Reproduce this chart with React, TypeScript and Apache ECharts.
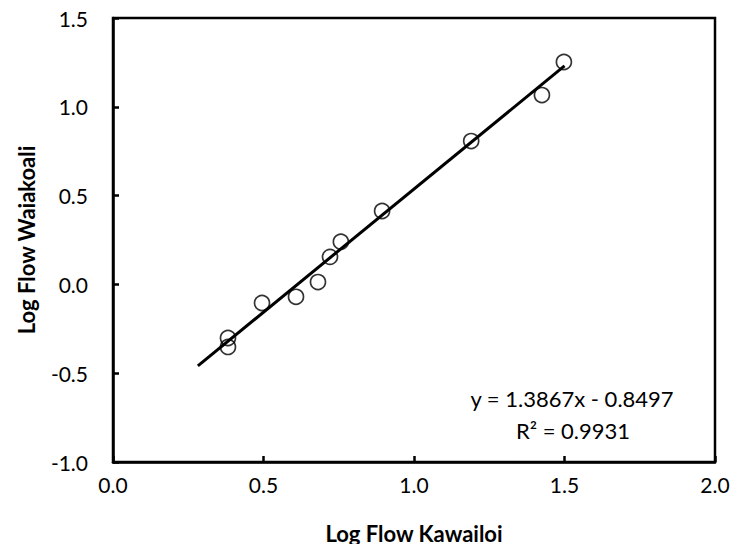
import React, { useEffect, useRef } from "react";
import * as echarts from "echarts";

const xValues = [0.382, 0.382, 0.495, 0.608, 0.681, 0.721, 0.757, 0.894, 1.19, 1.425, 1.498];
const yValues = [-0.302, -0.352, -0.105, -0.07, 0.013, 0.155, 0.24, 0.413, 0.807, 1.066, 1.252];
const slope = 1.3867;
const intercept = -0.8497;
const trendStart = 0.282;
const trendEnd = 1.5;
const eqText = "y = 1.3867x - 0.8497";
const r2Text = "R² = 0.9931";
const xTitle = "Log Flow Kawailoi";
const yTitle = "Log Flow Waiakoali";

const FONT = "Lato, 'Open Sans', sans-serif";

export default function App() {
  const ref = useRef<HTMLDivElement>(null);
  useEffect(() => {
    if (!ref.current) return;
    const chart = echarts.init(ref.current, undefined, { renderer: "svg" });
    const points = xValues.map((x, i) => [x, yValues[i]]);
    const trend = [trendStart, trendEnd].map((x) => [x, slope * x + intercept]);
    chart.setOption({
      animation: false,
      backgroundColor: "#fff",
      grid: {
        left: 113,
        right: 32,
        top: 18,
        bottom: 90,
        show: true,
        borderColor: "#000",
        borderWidth: 2.5,
        backgroundColor: "transparent",
      },
      xAxis: {
        type: "value",
        min: 0,
        max: 2,
        interval: 0.5,
        name: xTitle,
        nameLocation: "middle",
        nameGap: 60,
        nameTextStyle: { fontFamily: FONT, fontSize: 22, fontWeight: "bold", color: "#000" },
        axisLine: { show: true, onZero: false, lineStyle: { color: "#000", width: 2.5 } },
        axisTick: { show: true, inside: true, length: 6, lineStyle: { color: "#000", width: 2.5 } },
        axisLabel: {
          fontFamily: FONT,
          fontSize: 21,
          color: "#000",
          margin: 12,
          formatter: (v: number) => v.toFixed(1),
        },
        splitLine: { show: false },
      },
      yAxis: {
        type: "value",
        min: -1,
        max: 1.5,
        interval: 0.5,
        name: yTitle,
        nameLocation: "middle",
        nameGap: 76,
        nameRotate: 90,
        nameTextStyle: { fontFamily: FONT, fontSize: 22, fontWeight: "bold", color: "#000" },
        axisLine: { show: true, onZero: false, lineStyle: { color: "#000", width: 2.5 } },
        axisTick: { show: true, inside: true, length: 6, lineStyle: { color: "#000", width: 2.5 } },
        axisLabel: {
          fontFamily: FONT,
          fontSize: 21,
          color: "#000",
          margin: 25,
          formatter: (v: number) => v.toFixed(1),
        },
        splitLine: { show: false },
      },
      series: [
        {
          type: "line",
          data: trend,
          symbol: "none",
          lineStyle: { color: "#000", width: 3 },
          z: 2,
        },
        {
          type: "scatter",
          data: points,
          symbol: "circle",
          symbolSize: 15,
          itemStyle: { color: "rgba(0,0,0,0)", borderColor: "#000", borderWidth: 1.7 },
          z: 3,
        },
      ],
      graphic: [
        {
          type: "text",
          x: 572,
          y: 398,
          style: {
            text: eqText,
            fontFamily: FONT,
            fontSize: 22,
            fill: "#000",
            align: "center",
            verticalAlign: "middle",
          },
        },
        {
          type: "text",
          x: 573,
          y: 430,
          style: {
            text: r2Text,
            fontFamily: FONT,
            fontSize: 22,
            fill: "#000",
            align: "center",
            verticalAlign: "middle",
          },
        },
      ],
    });
    return () => chart.dispose();
  }, []);
  return <div ref={ref} style={{ width: 747, height: 552, margin: -8 }} />;
}
